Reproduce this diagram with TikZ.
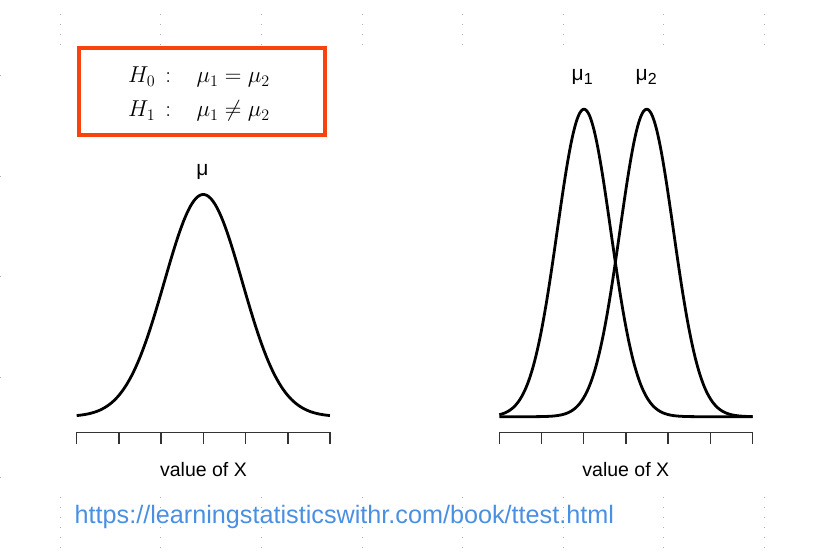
\RequirePackage{fix-cm}
\documentclass[tikz,border=0pt]{standalone}
\usepackage{fontspec}
\setmainfont{Liberation Sans}
\definecolor{boxred}{RGB}{250,66,12}
\definecolor{urlblue}{RGB}{74,144,226}
\definecolor{gridgray}{RGB}{175,175,175}
\begin{document}
\begin{tikzpicture}[x=1pt,y=-1pt,
  curve/.style={line width=2.8pt,line join=round},
  axisline/.style={line width=1.4pt,draw=black!80},
  dotline/.style={draw=gridgray,line width=1pt,dash pattern=on 1pt off 9.1pt},
  lab/.style={inner sep=0pt,font=\fontsize{19.5}{22}\selectfont},
  mulab/.style={inner sep=0pt,font=\fontsize{21}{24}\selectfont},
  hyp/.style={inner sep=0pt,anchor=base west,font=\fontsize{23}{34}\selectfont},
  hypbox/.style={draw=boxred,line width=4pt,minimum width=245.4pt,minimum height=86.7pt,inner sep=0pt}]
\useasboundingbox (0,0) rectangle (821,557);
% faint slide grid dots
\foreach \k in {0,...,7}{
  \draw[dotline] ({60.3+100.6*\k},13.5) -- ({60.3+100.6*\k},45);
  \draw[dotline] ({60.3+100.6*\k},496.5) -- ({60.3+100.6*\k},549);
}
\foreach \k in {0,...,4}{
  \fill[gridgray] (0,{75+100.6*\k}) rectangle (1,{76+100.6*\k});
}
% hypotheses box
\node[hypbox] (box) at (202,91.35) {};
\node[hyp] (h0) at (128,82.7) {$H_0\mkern3mu:\hskip19pt \mu_1=\mu_2$};
\node[hyp] (h1) at (128,116.7) {$H_1\mkern3mu:\hskip19pt \mu_1\neq\mu_2$};
% left plot
\draw[curve] plot[domain=-126.6:126.6,samples=120,smooth] ({203.3+\x},{416.7-222.2*exp(-((\x/39)^2)/2)});
\draw[axisline] (76.7,432.3) -- (330,432.3);
\foreach \k in {0,...,6}{ \draw[axisline] ({76.7+42.22*\k},432.3) -- ({76.7+42.22*\k},443.5); }
\node[mulab,anchor=base] (mu) at (202.5,175.5) {μ};
\node[lab,anchor=base] (xl) at (203.5,476) {value of X};
% right plot
\draw[curve] plot[domain=499.3:752.6,samples=140,smooth] (\x,{416.7-307.5*exp(-(((\x-584)/26.7)^2)/2)});
\draw[curve] plot[domain=499.3:752.6,samples=140,smooth] (\x,{416.7-307.5*exp(-(((\x-646.7)/26.7)^2)/2)});
\draw[axisline] (499.3,432.3) -- (752.6,432.3);
\foreach \k in {0,...,6}{ \draw[axisline] ({499.3+42.22*\k},432.3) -- ({499.3+42.22*\k},443.5); }
\node[mulab,anchor=base west] (mu1) at (571.5,80.8) {μ\raisebox{-3.5pt}{\fontsize{16}{16}\selectfont 1}};
\node[mulab,anchor=base west] (mu2) at (635.5,80.8) {μ\raisebox{-3.5pt}{\fontsize{16}{16}\selectfont 2}};
\node[lab,anchor=base] (xr) at (625.8,476) {value of X};
% url
\node[inner sep=0pt,anchor=base west,text=urlblue,font=\fontsize{25.2}{30}\selectfont] (url) at (74.5,523.3) {https://learningstatisticswithr.com/book/ttest.html};
\end{tikzpicture}
\end{document}
